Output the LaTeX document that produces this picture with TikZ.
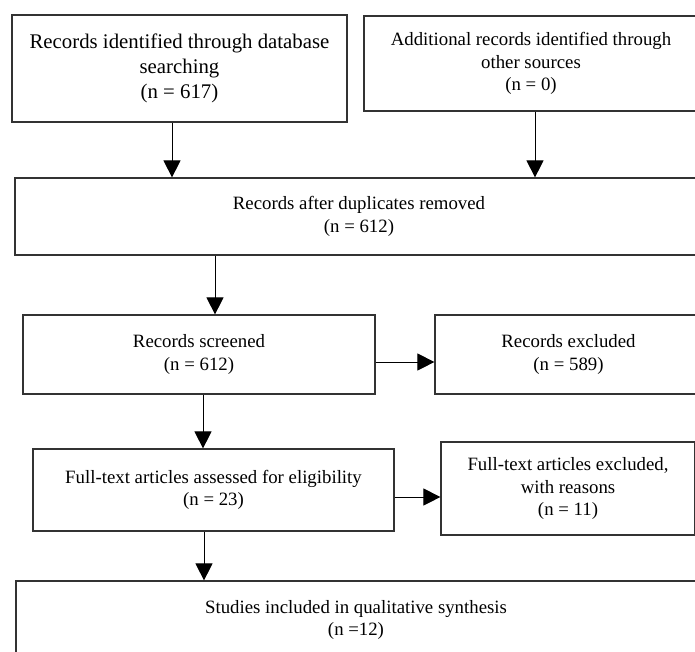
\documentclass[tikz,border=0pt]{standalone}
\usepackage{fontspec}
\setmainfont{Liberation Serif}
\usetikzlibrary{arrows.meta}
\begin{document}
\begin{tikzpicture}[x=1pt,y=-1pt,
  box/.style={draw=black!80, line width=1.2pt, inner sep=0pt, align=center,
    font=\fontsize{18.8}{22.5}\selectfont},
  bigbox/.style={box, font=\fontsize{20.8}{25}\selectfont},
  arr/.style={-{Triangle[length=17pt,width=17pt]}, line width=0.9pt, draw=black}]
\useasboundingbox (0,0) rectangle (695,651);
\clip (0,0) rectangle (695,651);

\node[bigbox, minimum width=335pt, minimum height=107pt] (b1) at (179.5,68.5)
  {Records identified through database\\searching\\(n = 617)};
\node[box, minimum width=334pt, minimum height=95pt] (b2) at (531,63.5)
  {Additional records identified through\\other sources\\(n = 0)};
\node[box, minimum width=688pt, minimum height=77pt] (b3) at (359,216.5)
  {Records after duplicates removed\\(n = 612)};
\node[box, minimum width=352pt, minimum height=79pt] (b4) at (199,354.5)
  {Records screened\\(n = 612)};
\node[box, minimum width=267pt, minimum height=79pt] (b5) at (568.5,354.5)
  {Records excluded\\(n = 589)};
\node[box, minimum width=361pt, minimum height=82pt] (b6) at (213.5,490)
  {Full-text articles assessed for eligibility\\(n = 23)};
\node[box, minimum width=254pt, minimum height=93pt] (b7) at (568,488.5)
  {Full-text articles excluded,\\with reasons\\(n = 11)};
\node[box, minimum width=680pt, minimum height=78pt] (b8) at (356,620)
  {Studies included in qualitative synthesis\\(n =12)};

\coordinate (a1) at ([xshift=-7.5pt]b1.south);
\draw[arr] (a1) -- (a1 |- b3.north);
\coordinate (a2) at ([xshift=4pt]b2.south);
\draw[arr] (a2) -- (a2 |- b3.north);
\coordinate (a3) at ([xshift=-144pt]b3.south);
\draw[arr] (a3) -- (a3 |- b4.north);
\coordinate (a4) at ([yshift=-7.5pt]b4.east);
\draw[arr] (a4) -- (a4 -| b5.west);
\coordinate (a5) at ([xshift=4pt]b4.south);
\draw[arr] (a5) -- (a5 |- b6.north);
\coordinate (a6) at ([yshift=-7pt]b6.east);
\draw[arr] (a6) -- (a6 -| b7.west);
\coordinate (a7) at ([xshift=-9.5pt]b6.south);
\draw[arr] (a7) -- (a7 |- b8.north);
\end{tikzpicture}
\end{document}
